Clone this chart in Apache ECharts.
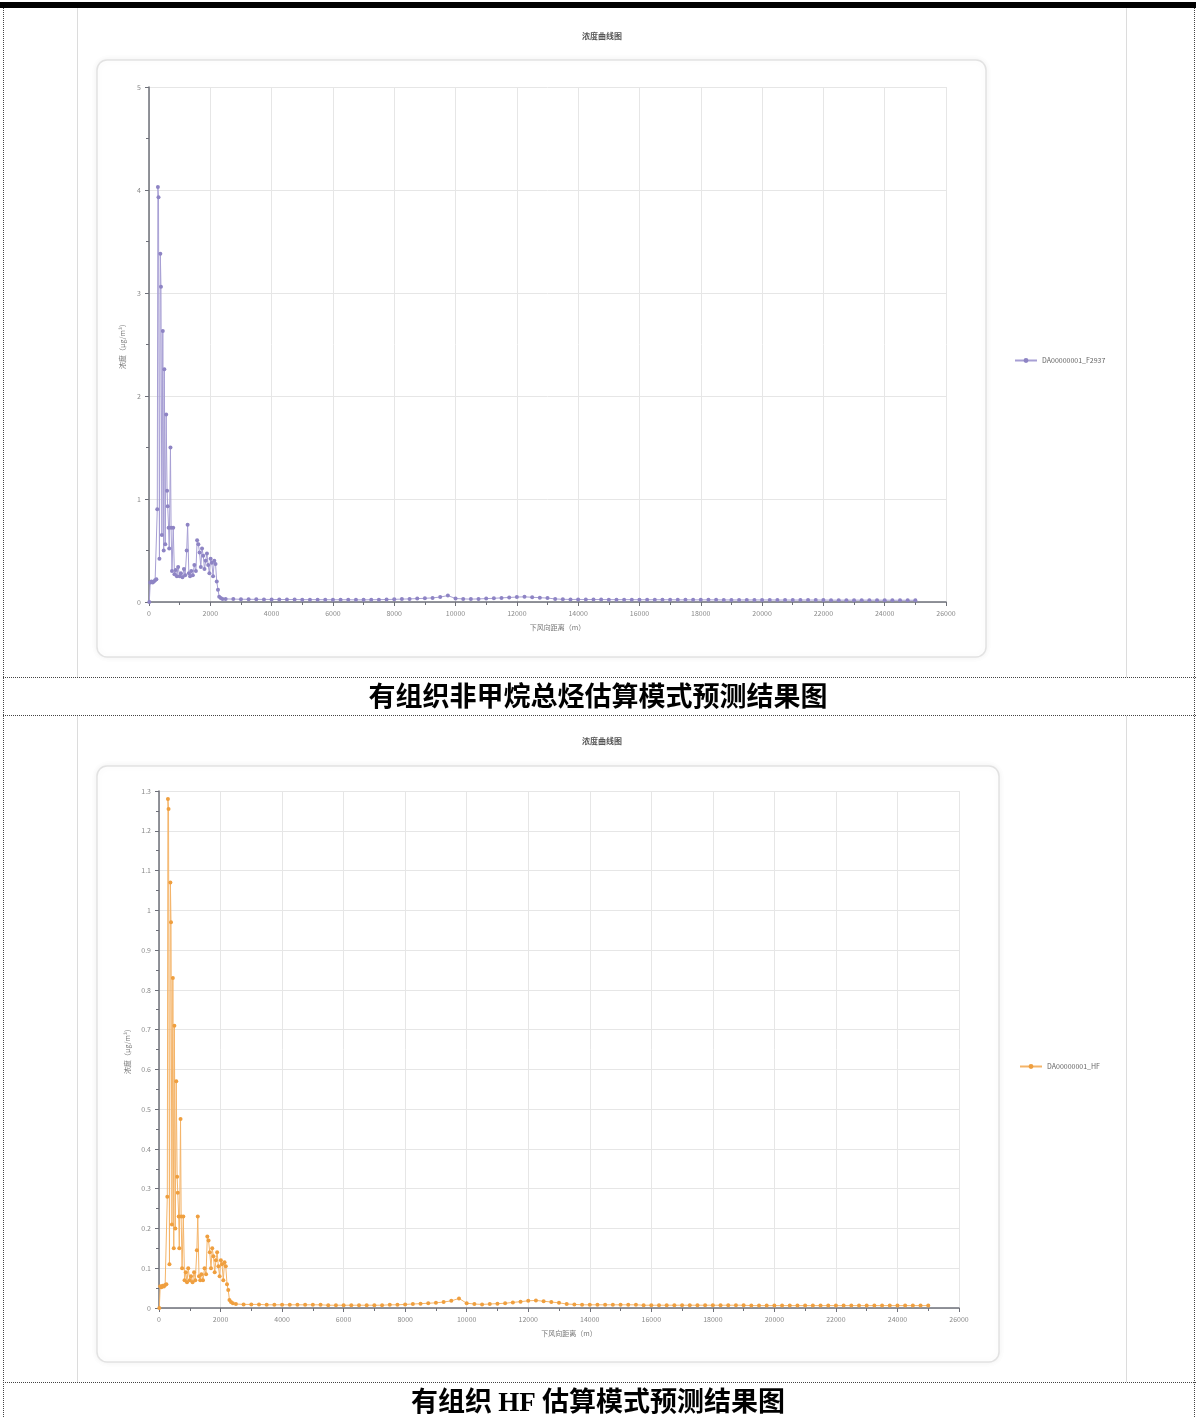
<!DOCTYPE html>
<html>
<head>
<meta charset="utf-8">
<title>估算模式预测结果图</title>
<script src="https://cdn.jsdelivr.net/npm/echarts@6/dist/echarts.min.js"></script>
<style>
  html, body { margin: 0; padding: 0; background: #fff; }
  #page { position: relative; width: 1196px; height: 1417px; overflow: hidden; background: #fff; }
  .topbar { position: absolute; left: 0; top: 2px; width: 1196px; height: 6px; background: #000; }
  .vline { position: absolute; top: 8px; bottom: 0; width: 0; border-left: 1px dotted #444; }
  .hline { position: absolute; left: 3px; right: 0; height: 0; border-top: 1px dotted #444; }
  .chart { position: absolute; left: 77px; width: 1050px; box-sizing: border-box;
           border-left: 1px solid #dcdcdc; border-right: 1px solid #dcdcdc; filter: blur(0.4px); }
  .cap { position: absolute; left: 0; width: 1196px; text-align: center; color: #000;
         font-family: "Noto Sans CJK SC", sans-serif; font-weight: 700; font-size: 27px; line-height: 36px; }
  .cap .lat { font-family: "Liberation Serif", serif; font-weight: 700; }
</style>
</head>
<body>
<div id="page">
  <div class="topbar"></div>
  <div class="vline" style="left:3px"></div>
  <div class="vline" style="left:1194px"></div>
  <div class="chart" id="chartA" style="top:8px;height:669px"></div>
  <div class="hline" style="top:677px"></div>
  <div class="cap" style="top:677px">有组织非甲烷总烃估算模式预测结果图</div>
  <div class="hline" style="top:715px"></div>
  <div class="chart" id="chartB" style="top:716px;height:666px"></div>
  <div class="hline" style="top:1382px"></div>
  <div class="cap" style="top:1382px">有组织 <span class="lat">HF</span> 估算模式预测结果图</div>
</div>
<script>
// Downwind distance (m), near field
const distNear = [
  10, 40, 80, 120, 160, 200, 240, 270, 290, 310,
  340, 370, 390, 420, 450, 480, 500, 530, 560, 590,
  610, 640, 660, 700, 720, 750, 790, 830, 870, 910,
  950, 1000, 1040, 1090, 1140, 1180, 1230, 1260, 1300, 1340,
  1380, 1430, 1480, 1530, 1570, 1610, 1650, 1690, 1730, 1770,
  1810, 1850, 1890, 1930, 1970, 2010, 2050, 2090, 2130, 2170,
  2210, 2250, 2290, 2340, 2400
];
// Downwind distance (m), far field
const distFar = [
  2500, 2750, 3000, 3250, 3500, 3750, 4000, 4250, 4500, 4750,
  5000, 5250, 5500, 5750, 6000, 6250, 6500, 6750, 7000, 7250,
  7500, 7750, 8000, 8250, 8500, 8750, 9000, 9250, 9500, 9750,
  10000, 10250, 10500, 10750, 11000, 11250, 11500, 11750, 12000, 12250,
  12500, 12750, 13000, 13250, 13500, 13750, 14000, 14250, 14500, 14750,
  15000, 15250, 15500, 15750, 16000, 16250, 16500, 16750, 17000, 17250,
  17500, 17750, 18000, 18250, 18500, 18750, 19000, 19250, 19500, 19750,
  20000, 20250, 20500, 20750, 21000, 21250, 21500, 21750, 22000, 22250,
  22500, 22750, 23000, 23250, 23500, 23750, 24000, 24250, 24500, 24750,
  25000
];

// Non-methane total hydrocarbons concentration
const nmhcNear = [
  0.00, 0.19, 0.20, 0.19, 0.20, 0.21, 0.22, 0.90, 4.03, 3.93,
  0.42, 3.38, 3.06, 0.65, 2.63, 0.50, 2.26, 0.56, 1.82, 1.08,
  0.93, 0.72, 0.52, 1.50, 0.72, 0.30, 0.72, 0.27, 0.31, 0.25,
  0.34, 0.25, 0.28, 0.24, 0.32, 0.26, 0.50, 0.75, 0.28, 0.25,
  0.30, 0.26, 0.36, 0.30, 0.60, 0.56, 0.48, 0.34, 0.52, 0.45,
  0.32, 0.40, 0.47, 0.36, 0.28, 0.42, 0.38, 0.25, 0.40, 0.37,
  0.20, 0.12, 0.05, 0.04, 0.03
];
const nmhcFar = [
  0.030, 0.028, 0.027, 0.026, 0.026, 0.025, 0.025, 0.024, 0.024, 0.024,
  0.023, 0.023, 0.023, 0.022, 0.022, 0.022, 0.022, 0.021, 0.021, 0.022,
  0.023, 0.024, 0.026, 0.028, 0.030, 0.033, 0.036, 0.040, 0.048, 0.062,
  0.034, 0.030, 0.028, 0.030, 0.033, 0.036, 0.040, 0.044, 0.048, 0.050,
  0.046, 0.042, 0.038, 0.030, 0.026, 0.025, 0.025, 0.024, 0.024, 0.024,
  0.023, 0.023, 0.023, 0.023, 0.022, 0.022, 0.022, 0.022, 0.022, 0.021,
  0.021, 0.021, 0.021, 0.021, 0.021, 0.020, 0.020, 0.020, 0.020, 0.020,
  0.020, 0.020, 0.019, 0.019, 0.019, 0.019, 0.019, 0.019, 0.019, 0.018,
  0.018, 0.018, 0.018, 0.018, 0.018, 0.018, 0.018, 0.017, 0.017, 0.017,
  0.017
];

// HF concentration
const hfNear = [
  0.000, 0.055, 0.052, 0.056, 0.054, 0.058, 0.060, 0.280, 1.280, 1.255,
  0.110, 1.070, 0.970, 0.210, 0.830, 0.150, 0.710, 0.200, 0.570, 0.330,
  0.290, 0.230, 0.150, 0.475, 0.230, 0.100, 0.230, 0.070, 0.090, 0.065,
  0.100, 0.070, 0.080, 0.065, 0.090, 0.070, 0.145, 0.230, 0.080, 0.070,
  0.085, 0.070, 0.100, 0.085, 0.180, 0.170, 0.140, 0.100, 0.150, 0.130,
  0.090, 0.120, 0.140, 0.105, 0.080, 0.120, 0.110, 0.070, 0.115, 0.105,
  0.060, 0.045, 0.020, 0.015, 0.012
];
const hfFar = [
  0.010, 0.009, 0.009, 0.009, 0.008, 0.008, 0.008, 0.008, 0.008, 0.008,
  0.008, 0.008, 0.007, 0.007, 0.007, 0.007, 0.007, 0.007, 0.007, 0.007,
  0.008, 0.008, 0.009, 0.010, 0.011, 0.012, 0.013, 0.015, 0.018, 0.024,
  0.012, 0.010, 0.009, 0.010, 0.011, 0.012, 0.014, 0.016, 0.018, 0.019,
  0.017, 0.015, 0.013, 0.010, 0.009, 0.008, 0.008, 0.008, 0.008, 0.008,
  0.008, 0.008, 0.008, 0.007, 0.007, 0.007, 0.007, 0.007, 0.007, 0.007,
  0.007, 0.007, 0.007, 0.007, 0.007, 0.007, 0.007, 0.006, 0.006, 0.006,
  0.006, 0.006, 0.006, 0.006, 0.006, 0.006, 0.006, 0.006, 0.006, 0.006,
  0.006, 0.006, 0.006, 0.006, 0.006, 0.006, 0.006, 0.006, 0.006, 0.006,
  0.006
];

const chartTitle = '浓度曲线图';
const xAxisName = '下风向距离（m）';
const yAxisName = '浓度（μg/m³）';
const nmhcSeriesName = 'DA00000001_F2937';
const hfSeriesName = 'DA00000001_HF';

const distances = distNear.concat(distFar);

function pairs(values) {
  return distances.map(function (d, i) { return [d, values[i]]; });
}

function buildOption(cfg) {
  const axisColor = '#6e7079';
  const labelStyle = { fontSize: 7, color: '#8a8a8a', fontFamily: 'Noto Sans CJK SC' };
  return {
    animation: false,
    backgroundColor: '#fff',
    title: {
      text: chartTitle, left: 'center', top: cfg.titleTop,
      textStyle: { fontSize: 8, fontWeight: 'bold', color: '#555', fontFamily: 'Noto Sans CJK SC' }
    },
    graphic: [{
      type: 'rect', z: -10, silent: true,
      shape: { x: cfg.card[0], y: cfg.card[1], width: cfg.card[2], height: cfg.card[3], r: 10 },
      style: { fill: '#fff', stroke: '#e2e2e2', lineWidth: 1.5,
               shadowBlur: 6, shadowColor: 'rgba(0,0,0,0.06)' }
    }],
    legend: {
      orient: 'vertical', left: cfg.legend[0], top: cfg.legend[1],
      itemWidth: 22, itemHeight: 6, itemGap: 4,
      textStyle: { fontSize: 7, color: '#666', fontFamily: 'Noto Sans CJK SC' }
    },
    grid: { left: cfg.grid[0], top: cfg.grid[1], width: cfg.grid[2], height: cfg.grid[3], containLabel: false },
    xAxis: {
      type: 'value', min: 0, max: 26000, interval: 2000,
      name: xAxisName, nameLocation: 'middle', nameGap: 22,
      nameTextStyle: { fontSize: 7, color: '#777', fontFamily: 'Noto Sans CJK SC', padding: [0, 0, 0, 20] },
      axisLine: { show: true, lineStyle: { color: axisColor, width: 1.5 } },
      axisTick: { show: true, length: 4, lineStyle: { color: axisColor } },
      minorTick: { show: true, splitNumber: 2, length: 3, lineStyle: { color: axisColor } },
      axisLabel: Object.assign({ margin: 8, formatter: function (v) { return String(v); } }, labelStyle),
      splitLine: { show: true, lineStyle: { color: '#e6e6e6' } }
    },
    yAxis: {
      type: 'value', min: 0, max: cfg.yMax, interval: cfg.yStep,
      name: yAxisName, nameLocation: 'middle', nameGap: cfg.yNameGap, nameRotate: 90,
      nameTextStyle: { fontSize: 7, color: '#777', fontFamily: 'Noto Sans CJK SC' },
      axisLine: { show: true, lineStyle: { color: axisColor, width: 1.5 } },
      axisTick: { show: true, length: 4, lineStyle: { color: axisColor } },
      minorTick: { show: true, splitNumber: 2, length: 3, lineStyle: { color: axisColor } },
      axisLabel: Object.assign({ margin: 8 }, labelStyle),
      splitLine: { show: true, lineStyle: { color: '#e6e6e6' } }
    },
    series: [{
      name: cfg.name, type: 'line', data: pairs(cfg.values),
      symbol: 'circle', symbolSize: 4, showSymbol: true,
      itemStyle: { color: cfg.color },
      lineStyle: { color: cfg.lineColor, width: 1 }
    }]
  };
}

const chartA = echarts.init(document.getElementById('chartA'), null, { renderer: 'canvas' });
chartA.setOption(buildOption({
  titleTop: 19, card: [19, 52, 889, 597], legend: [931, 344],
  grid: [71, 79, 797, 515], yMax: 5, yStep: 1, yNameGap: 22,
  name: nmhcSeriesName, values: nmhcNear.concat(nmhcFar),
  color: '#8e84c4', lineColor: '#a79fd4'
}));

const chartB = echarts.init(document.getElementById('chartB'), null, { renderer: 'canvas' });
chartB.setOption(buildOption({
  titleTop: 16, card: [19, 50, 902, 596], legend: [936, 342],
  grid: [81, 75, 800, 517], yMax: 1.3, yStep: 0.1, yNameGap: 28,
  name: hfSeriesName, values: hfNear.concat(hfFar),
  color: '#ef9f3f', lineColor: '#f4b469'
}));
</script>
</body>
</html>
